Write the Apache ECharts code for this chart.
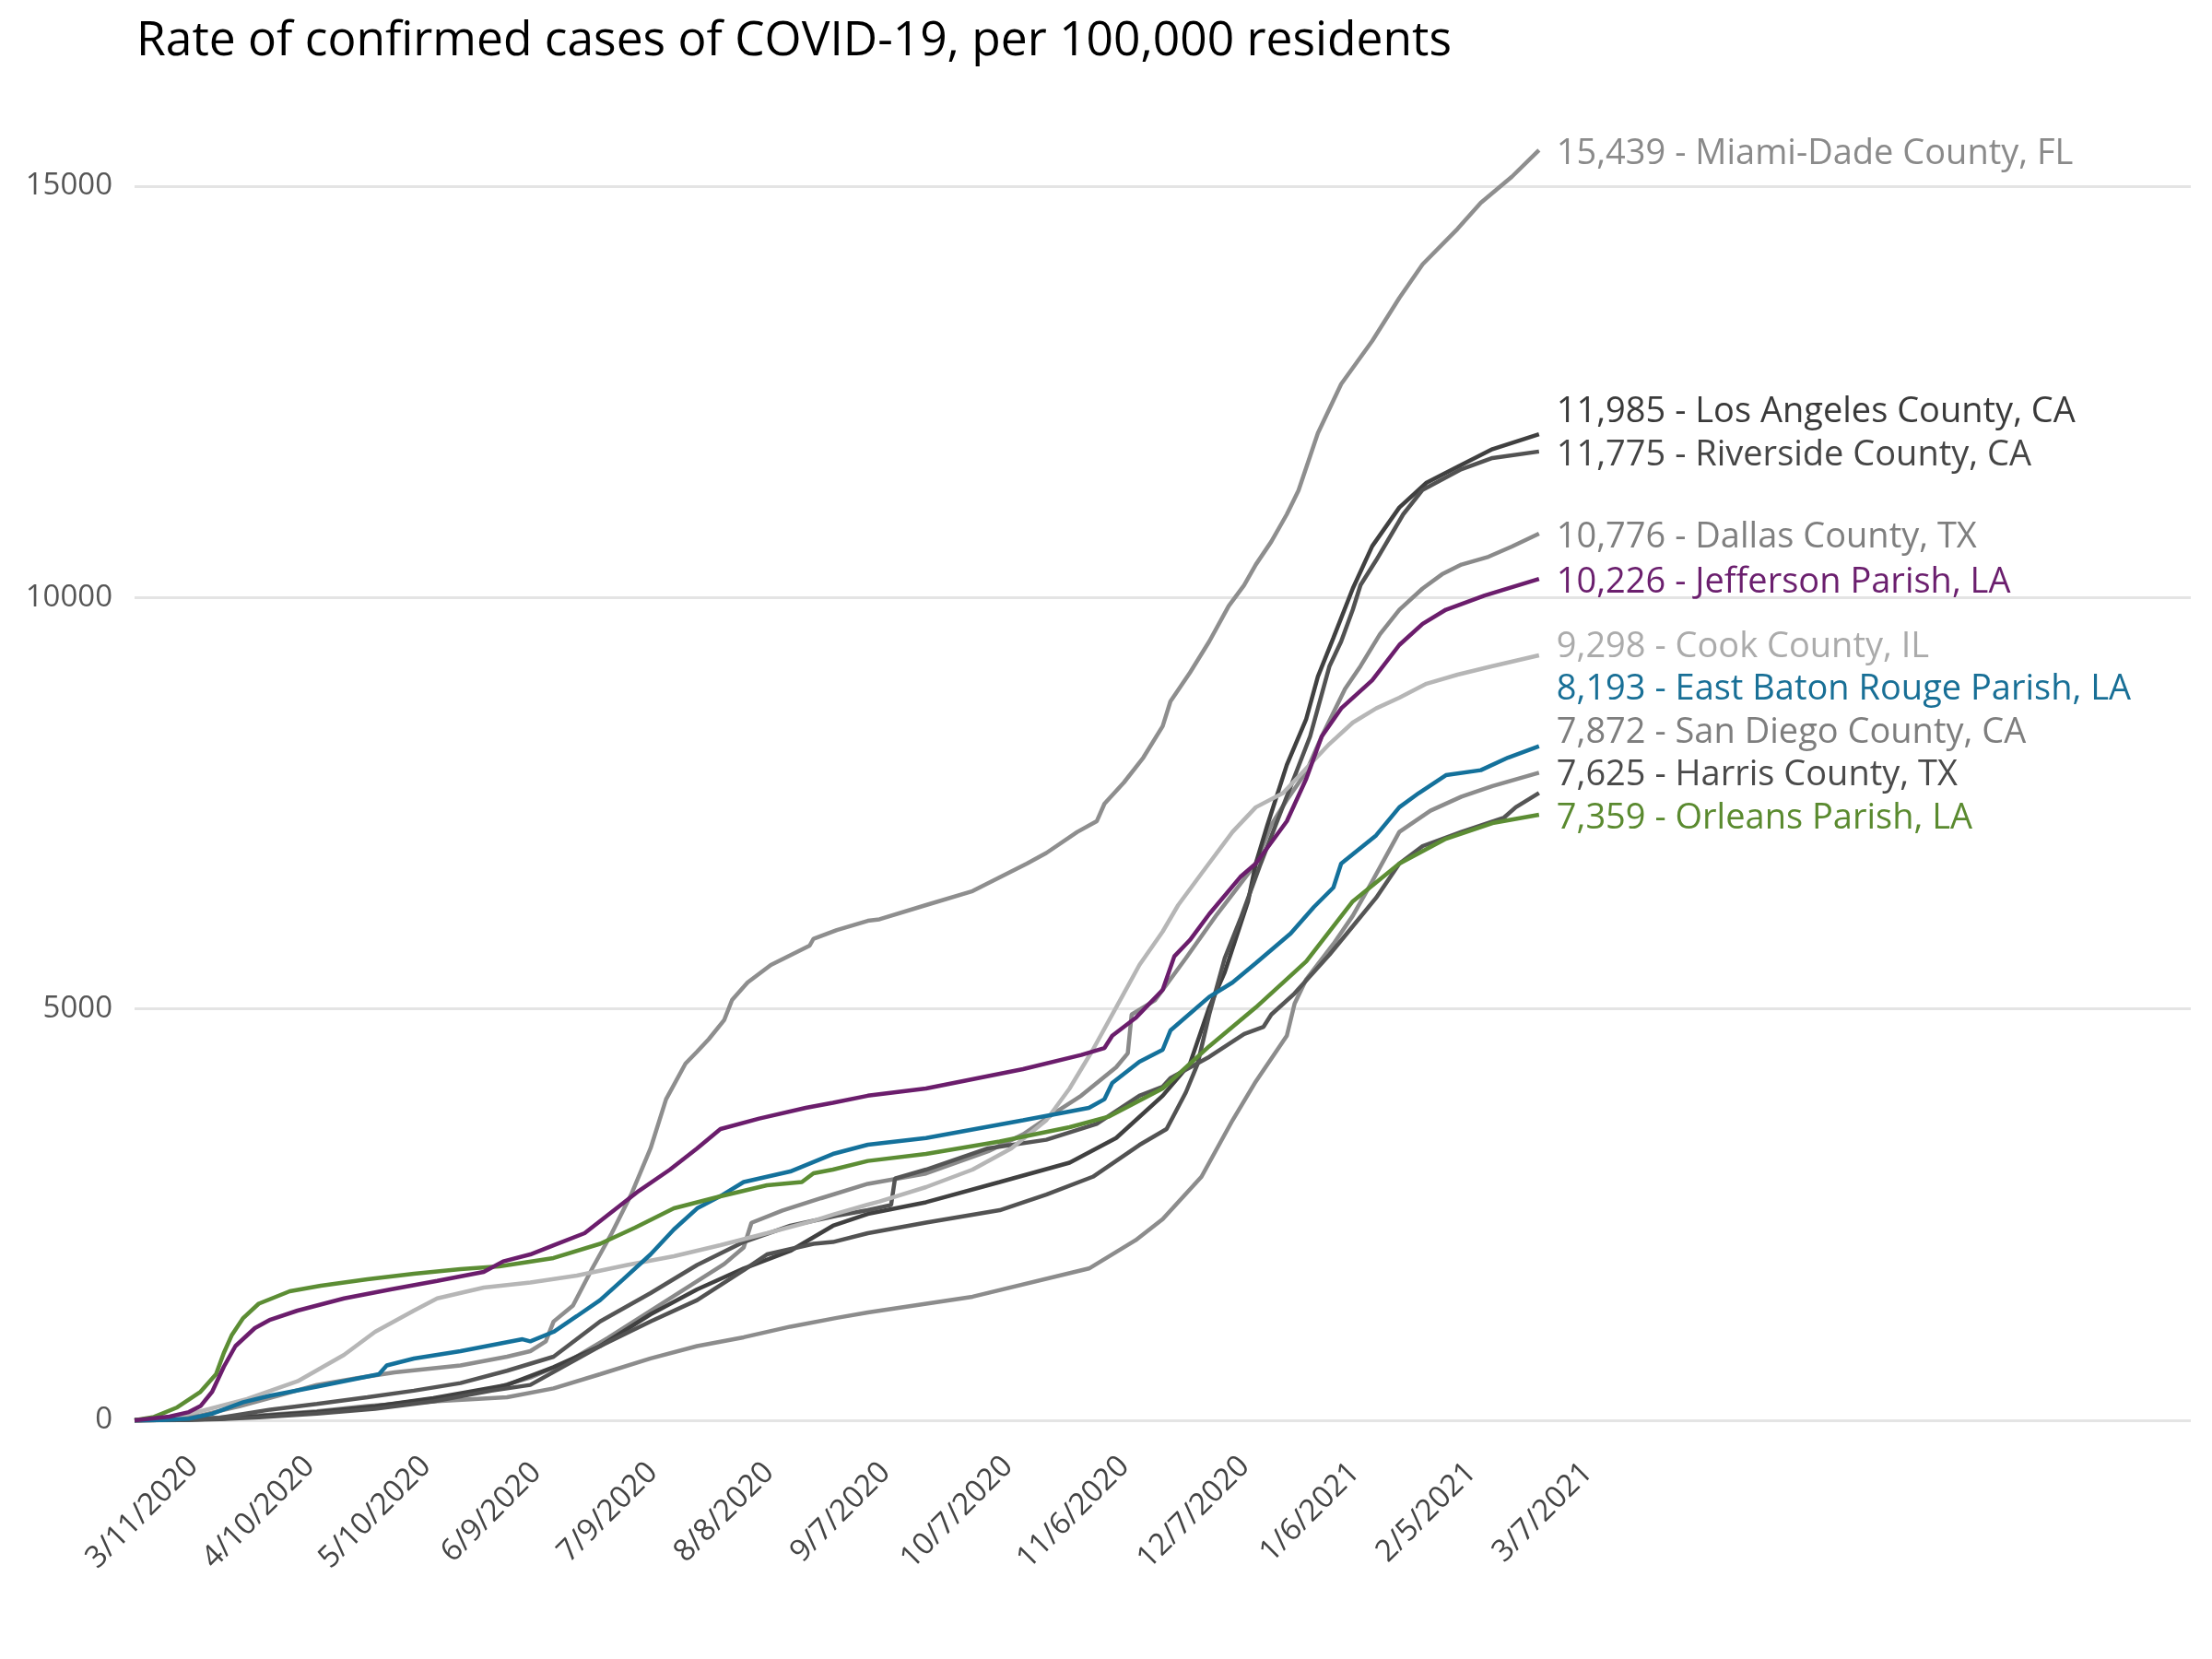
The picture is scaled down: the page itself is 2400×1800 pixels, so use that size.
<!DOCTYPE html>
<html>
<head>
<meta charset="utf-8">
<script src="https://cdn.jsdelivr.net/npm/echarts@6/dist/echarts.min.js"></script>
<style>
html,body{margin:0;padding:0;background:#fff;}
#chart{width:2400px;height:1800px;}
</style>
</head>
<body>
<div id="chart"></div>
<script>
// ---------- data (x = day offset from 3/11/2020, y = rate per 100,000) ----------
const titleText = 'Rate of confirmed cases of COVID-19, per 100,000 residents';
const tickDays = [0, 30, 60, 90, 120, 150, 180, 210, 240, 271, 301, 331, 361];
const tickLabels = ['3/11/2020','4/10/2020','5/10/2020','6/9/2020','7/9/2020','8/8/2020','9/7/2020','10/7/2020','11/6/2020','12/7/2020','1/6/2021','2/5/2021','3/7/2021'];

const miamiDade = [[-2,0],[5,10],[15,60],[25,170],[35,300],[45,430],[55,510],[65,582],[82,667],[94,773],[100,840],[104,960],[106,1200],[111,1395],[116,1848],[121,2274],[126,2744],[131,3305],[135,3903],[140,4335],[143,4481],[146,4632],[150,4867],[152,5108],[156,5321],[162,5534],[172,5769],[173,5853],[179,5959],[187,6071],[190,6089],[202,6262],[214,6432],[228,6766],[233,6895],[241,7151],[246,7281],[248,7494],[253,7752],[258,8054],[263,8437],[265,8738],[270,9085],[275,9466],[280,9896],[284,10150],[287,10400],[291,10680],[295,11012],[298,11300],[303,11997],[309,12594],[317,13118],[324,13641],[330,14051],[339,14481],[345,14798],[353,15115],[360,15439]];
const losAngeles = [[-2,0],[10,5],[20,20],[30,50],[45,100],[60,170],[75,270],[94,430],[106,645],[118,902],[131,1288],[143,1590],[155,1845],[167,2059],[178,2364],[187,2509],[202,2650],[221,2896],[239,3131],[251,3431],[263,3945],[270,4331],[275,5018],[279,5446],[285,6307],[287,6766],[290,7237],[295,7966],[300,8525],[303,9038],[307,9510],[312,10110],[317,10624],[324,11095],[331,11396],[339,11589],[348,11804],[360,11985]];
const riverside = [[-2,0],[10,3],[20,15],[30,35],[45,80],[60,140],[75,230],[90,360],[100,430],[118,902],[131,1202],[143,1460],[155,1824],[161,2016],[173,2145],[178,2167],[187,2274],[202,2403],[221,2554],[233,2744],[245,2960],[257,3346],[264,3540],[269,3988],[272,4331],[275,4932],[279,5618],[283,6089],[288,6732],[301,8312],[306,9167],[309,9466],[312,9852],[314,10152],[318,10451],[325,11012],[330,11310],[340,11560],[348,11696],[360,11775]];
const dallas = [[-2,0],[10,5],[20,20],[30,45],[45,100],[60,170],[75,260],[90,380],[100,520],[110,720],[120,1000],[130,1300],[140,1600],[150,1900],[155,2100],[157,2400],[165,2550],[175,2700],[187,2874],[202,3000],[218,3270],[227,3474],[235,3731],[242,3945],[251,4290],[254,4460],[255,4932],[261,5104],[269,5618],[277,6150],[287,6766],[291,7237],[295,7539],[300,7881],[304,8312],[310,8888],[314,9167],[319,9555],[324,9852],[330,10110],[335,10283],[340,10401],[347,10496],[353,10620],[360,10776]];
const jefferson = [[-2,0],[7,45],[12,100],[15,173],[18,347],[21,650],[24,902],[29,1120],[33,1223],[40,1333],[52,1481],[64,1590],[76,1695],[88,1803],[93,1931],[100,2016],[106,2128],[114,2274],[121,2532],[128,2789],[136,3047],[143,3305],[149,3540],[159,3667],[171,3797],[178,3860],[187,3945],[202,4033],[227,4268],[242,4440],[248,4525],[250,4675],[256,4889],[263,5231],[266,5639],[270,5836],[275,6153],[283,6603],[287,6766],[295,7282],[300,7797],[304,8312],[309,8652],[317,8995],[324,9424],[330,9681],[336,9852],[346,10025],[360,10226]];
const cook = [[-2,0],[5,15],[15,110],[27,258],[40,474],[52,795],[60,1075],[70,1333],[76,1481],[88,1613],[100,1674],[112,1759],[125,1888],[137,1994],[149,2128],[161,2274],[173,2424],[178,2500],[187,2621],[190,2659],[202,2834],[214,3047],[224,3305],[233,3646],[239,4033],[245,4503],[251,5018],[257,5534],[263,5940],[267,6262],[273,6646],[281,7151],[287,7451],[294,7623],[300,7923],[306,8222],[312,8480],[318,8652],[324,8782],[331,8953],[339,9063],[348,9167],[360,9298]];
const eastBatonRouge = [[-2,0],[5,2],[12,20],[18,80],[22,150],[26,220],[33,300],[45,408],[61,560],[63,666],[70,750],[82,840],[98,985],[100,960],[106,1075],[112,1266],[118,1460],[124,1716],[131,2016],[137,2319],[143,2576],[149,2724],[155,2896],[167,3024],[178,3237],[187,3350],[202,3431],[227,3646],[244,3797],[248,3903],[250,4100],[257,4358],[263,4503],[265,4738],[275,5146],[281,5321],[287,5556],[296,5918],[302,6240],[307,6475],[309,6766],[318,7109],[324,7451],[329,7623],[336,7841],[345,7902],[352,8054],[360,8193]];
const sanDiego = [[-2,0],[15,20],[30,60],[45,110],[58,173],[75,230],[94,280],[106,388],[118,560],[131,752],[143,902],[155,1009],[167,1138],[179,1245],[187,1311],[214,1502],[244,1845],[256,2188],[263,2445],[273,2960],[281,3646],[287,4118],[295,4675],[297,5063],[300,5360],[307,5789],[312,6132],[317,6550],[324,7151],[332,7409],[340,7580],[348,7709],[360,7872]];
const harris = [[-2,0],[10,5],[20,30],[33,130],[45,200],[58,280],[70,360],[82,452],[94,602],[106,773],[118,1202],[131,1546],[143,1888],[155,2167],[167,2364],[179,2487],[187,2554],[193,2617],[194,2938],[202,3047],[218,3305],[233,3410],[246,3602],[257,3945],[263,4055],[265,4160],[275,4417],[284,4696],[289,4783],[291,4932],[297,5189],[306,5660],[312,6004],[318,6350],[324,6766],[330,6979],[340,7151],[351,7326],[354,7451],[360,7625]];
const orleans = [[-2,0],[3,40],[9,157],[15,347],[19,560],[21,818],[23,1030],[26,1243],[30,1417],[38,1568],[46,1635],[58,1714],[70,1781],[82,1837],[92,1870],[106,1972],[118,2145],[127,2341],[137,2576],[149,2722],[161,2856],[170,2896],[173,3002],[178,3047],[187,3152],[202,3237],[221,3389],[239,3562],[249,3689],[263,4033],[275,4546],[287,5018],[300,5578],[312,6307],[324,6766],[336,7068],[348,7259],[360,7359]];

const seriesNames = ['Miami-Dade County, FL','Dallas County, TX','San Diego County, CA','Los Angeles County, CA','Riverside County, CA','Harris County, TX','Cook County, IL','East Baton Rouge Parish, LA','Orleans Parish, LA','Jefferson Parish, LA'];
const seriesData = [miamiDade, dallas, sanDiego, losAngeles, riverside, harris, cook, eastBatonRouge, orleans, jefferson];
const lineColors = ['#8e8e8e','#8a8a8a','#8c8c8c','#404040','#525252','#555555','#b6b6b6','#14719b','#5c8d34','#6b1d6c'];
const labelColors = ['#8a8a8a','#7f7f7f','#7e7e7e','#3a3a3a','#454545','#4a4a4a','#ababab','#186f96','#5a8a2f','#6b1f6e'];

// ---------- chart ----------
const FONT = "'Open Sans', 'Noto Sans', sans-serif";
const LABEL_GAP = 46.5;
const LABEL_BASE_DY = 4;

function fmtNum(v) {
  return String(Math.round(v)).replace(/\B(?=(\d{3})+(?!\d))/g, ',');
}

const chart = echarts.init(document.getElementById('chart'), null, {renderer: 'canvas'});

const option = {
  animation: false,
  backgroundColor: '#ffffff',
  title: {
    text: titleText,
    left: 143,
    top: 14,
    textStyle: {fontFamily: FONT, fontSize: 51.5, fontWeight: 'normal', color: '#000000'}
  },
  grid: {left: 146, right: 23, top: 202, bottom: 259, containLabel: false},
  xAxis: {
    type: 'value',
    min: -2,
    max: 528,
    axisLine: {show: false},
    axisTick: {show: false},
    splitLine: {show: false},
    axisLabel: {
      customValues: tickDays,
      formatter: function (val) {
        const i = tickDays.indexOf(val);
        return i >= 0 ? tickLabels[i] : '';
      },
      rotate: 45,
      align: 'center',
      verticalAlign: 'middle',
      margin: 100,
      fontFamily: FONT,
      fontSize: 33,
      color: '#444444',
      hideOverlap: false
    }
  },
  yAxis: {
    type: 'value',
    min: 0,
    max: 15000,
    interval: 5000,
    axisLine: {show: false},
    axisTick: {show: false},
    axisLabel: {
      fontFamily: FONT, fontSize: 33, color: '#555555', margin: 24,
      formatter: function (v) { return String(v); }
    },
    splitLine: {show: true, lineStyle: {color: '#e4e4e4', width: 3}}
  },
  series: seriesNames.map((name, i) => ({
    name: name,
    type: 'line',
    clip: false,
    showSymbol: false,
    symbol: 'none',
    z: 2 + i,
    data: seriesData[i],
    lineStyle: {color: lineColors[i], width: 4.5},
    itemStyle: {color: lineColors[i]},
    emphasis: {disabled: true},
    endLabel: {
      show: true,
      distance: 19,
      fontFamily: FONT,
      fontSize: 38,
      color: labelColors[i],
      formatter: function (p) {
        return fmtNum(p.value[1]) + ' - ' + p.seriesName;
      }
    }
  }))
};

chart.setOption(option);

// stack end labels upward from the lowest one so they do not overlap
const ends = seriesData.map((arr, i) => {
  const last = arr[arr.length - 1];
  const px = chart.convertToPixel({gridIndex: 0}, [last[0], last[1]]);
  return {i: i, y: px[1]};
});
ends.sort((a, b) => b.y - a.y);
const dys = new Array(seriesData.length).fill(0);
let prev = Infinity;
ends.forEach(e => {
  const y = Math.min(e.y, prev - LABEL_GAP);
  dys[e.i] = y - e.y + LABEL_BASE_DY;
  prev = y;
});
chart.setOption({
  series: seriesNames.map((n, i) => ({labelLayout: {dy: dys[i]}}))
});
</script>
</body>
</html>
